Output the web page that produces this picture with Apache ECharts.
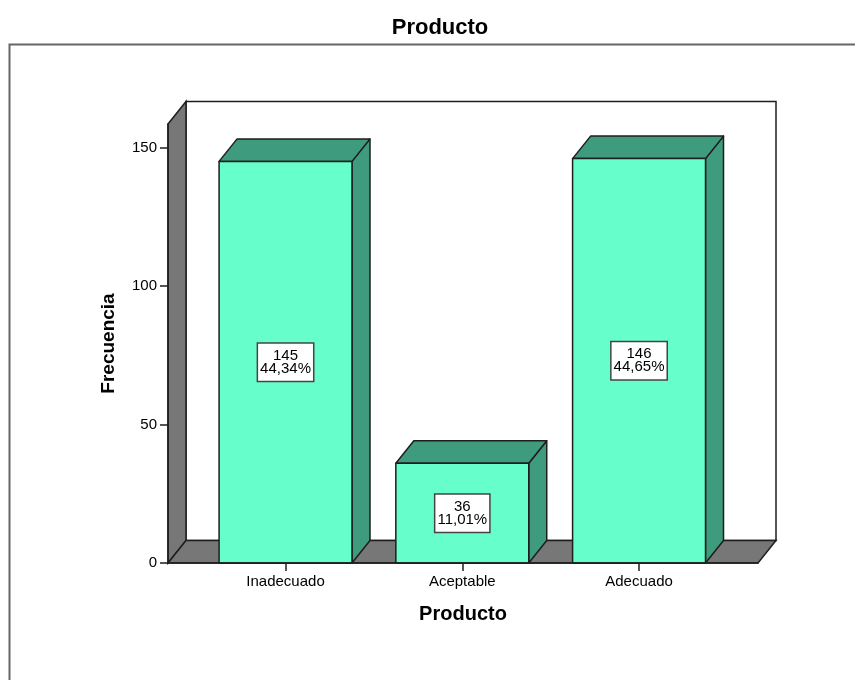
<!DOCTYPE html>
<html>
<head>
<meta charset="utf-8">
<script src="https://cdn.jsdelivr.net/npm/echarts@6/dist/echarts.min.js"></script>
<style>
html,body{margin:0;padding:0;background:#fff;}
#chart{width:855px;height:680px;}
</style>
</head>
<body>
<div id="chart"></div>
<script>
const categories = ['Inadecuado', 'Aceptable', 'Adecuado'];
const counts = [145, 36, 146];
const percents = ['44,34%', '11,01%', '44,65%'];
const yTicks = [0, 50, 100, 150];
const xTicks = [0, 1, 2];

const X_MIN = -0.665, X_MAX = 2.673, Y_MAX = 158.5;
const HALF_W = 0.376;
const DX = 18, DY = -22.5;
const FONT = "'Liberation Sans', Arial, sans-serif";
const FRONT = '#66ffcc', SIDE = '#3e9b7d', WALL = '#777777', EDGE = '#1e1e1e';

const chart = echarts.init(document.getElementById('chart'), null, {renderer: 'canvas'});

function shift(pt) { return [pt[0] + DX, pt[1] + DY]; }

const option = {
  backgroundColor: '#ffffff',
  animation: false,
  title: {
    text: 'Producto',
    left: 435, textAlign: 'center', top: 12,
    textStyle: {fontFamily: FONT, fontSize: 22, fontWeight: 'bold', color: '#000'}
  },
  graphic: [{
    type: 'rect', left: 7, top: 42, z: -10,
    shape: {x: 0, y: 0, width: 900, height: 700},
    style: {fill: 'none', stroke: '#666', lineWidth: 2}
  }],
  grid: {left: 168, right: 97, top: 124, bottom: 117, containLabel: false},
  xAxis: {
    type: 'value', min: X_MIN, max: X_MAX, z: 10,
    name: 'Producto', nameLocation: 'middle', nameGap: 41,
    nameTextStyle: {fontFamily: FONT, fontSize: 20, fontWeight: 'bold', color: '#000'},
    axisLine: {show: true, onZero: false, lineStyle: {color: EDGE, width: 1.5}},
    axisTick: {show: true, customValues: xTicks, length: 8, lineStyle: {color: EDGE, width: 1.5}},
    axisLabel: {customValues: xTicks, margin: 11, formatter: v => categories[Math.round(v)],
      fontFamily: FONT, fontSize: 15, color: '#000'},
    splitLine: {show: false}
  },
  yAxis: {
    type: 'value', min: 0, max: Y_MAX, z: 10,
    name: 'Frecuencia', nameLocation: 'middle', nameRotate: 90, nameGap: 50,
    nameTextStyle: {fontFamily: FONT, fontSize: 19, fontWeight: 'bold', color: '#000'},
    axisLine: {show: true, onZero: false, lineStyle: {color: EDGE, width: 1.5}},
    axisTick: {show: true, customValues: yTicks, length: 8, lineStyle: {color: EDGE, width: 1.5}},
    axisLabel: {customValues: yTicks, margin: 11, fontFamily: FONT, fontSize: 15, color: '#000'},
    splitLine: {show: false}
  },
  series: [
    {
      type: 'custom', z: 1, silent: true,
      data: [[0]],
      renderItem: function (params, api) {
        const A = api.coord([X_MIN, Y_MAX]);
        const B = api.coord([X_MIN, 0]);
        const C = api.coord([X_MAX, 0]);
        const A2 = shift(A), B2 = shift(B), C2 = shift(C);
        const st = {stroke: EDGE, lineWidth: 1.5};
        return {
          type: 'group',
          children: [
            {type: 'rect', shape: {x: A2[0], y: A2[1], width: C[0] - B[0], height: B[1] - A[1]},
              style: Object.assign({fill: '#ffffff'}, st)},
            {type: 'polygon', shape: {points: [A, A2, B2, B]}, style: Object.assign({fill: WALL}, st)},
            {type: 'polygon', shape: {points: [B, B2, C2, C]}, style: Object.assign({fill: WALL}, st)}
          ]
        };
      }
    },
    {
      type: 'custom', z: 3, silent: true,
      data: counts.map((v, i) => [i, v]),
      renderItem: function (params, api) {
        const i = api.value(0), v = api.value(1);
        const tl = api.coord([i - HALF_W, v]);
        const br = api.coord([i + HALF_W, 0]);
        const tr = [br[0], tl[1]];
        const st = {stroke: EDGE, lineWidth: 1.5, lineJoin: 'round'};
        const cx = (tl[0] + br[0]) / 2, cy = (tl[1] + br[1]) / 2;
        return {
          type: 'group',
          children: [
            {type: 'polygon', shape: {points: [br, shift(br), shift(tr), tr]}, style: Object.assign({fill: SIDE}, st)},
            {type: 'polygon', shape: {points: [tl, shift(tl), shift(tr), tr]}, style: Object.assign({fill: SIDE}, st)},
            {type: 'rect', shape: {x: tl[0], y: tl[1], width: br[0] - tl[0], height: br[1] - tl[1]},
              style: Object.assign({fill: FRONT}, st)},
            {type: 'text', x: cx, y: cy,
              style: {
                text: counts[i] + '\n' + percents[i],
                align: 'center', verticalAlign: 'middle',
                fontFamily: FONT, fontSize: 15, lineHeight: 13, fill: '#000',
                backgroundColor: '#ffffff', borderColor: '#444', borderWidth: 1.5,
                padding: [6, 2, 5, 2]
              }}
          ]
        };
      }
    }
  ]
};
chart.setOption(option);
</script>
</body>
</html>
